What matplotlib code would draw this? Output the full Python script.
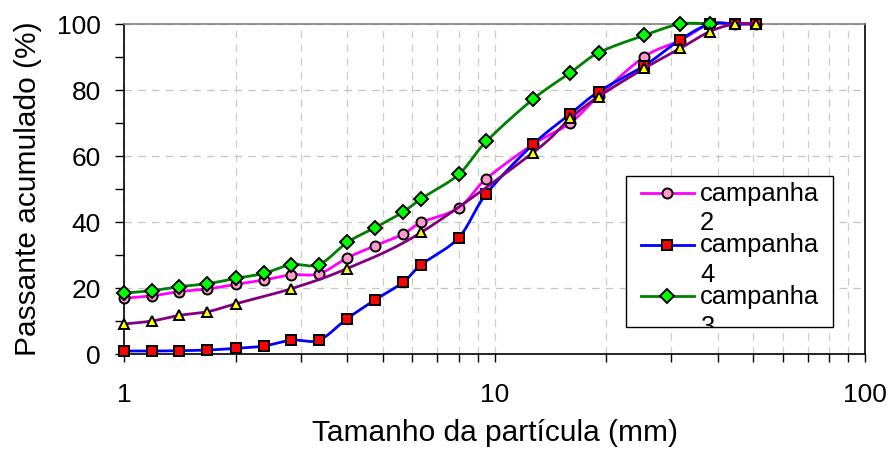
import numpy as np
import matplotlib
matplotlib.use("Agg")
import matplotlib.pyplot as plt
from matplotlib.ticker import FixedLocator, NullFormatter, MultipleLocator, LogLocator
from matplotlib.legend_handler import HandlerLine2D
from matplotlib.patches import Rectangle
from matplotlib.transforms import Bbox, TransformedBbox

plt.rcParams['font.family'] = ['Liberation Sans', 'DejaVu Sans']

# ---------------- data ----------------
sizes = [1, 1.19, 1.41, 1.68, 2, 2.38, 2.83, 3.36, 4, 4.76, 5.66, 6.35,
         8, 9.5, 12.7, 16, 19.1, 25.4, 31.7, 38.1, 44.5, 50.8]
campanha2 = [16.9, 17.6, 18.9, 19.7, 21.1, 22.4, 24.0, 24.3, 29.1, 32.8, 36.3, 39.9,
             44.2, 53.1, 63.5, 70.0, 78.2, 90.1, 95.0, 100, 100, 100]
campanha4 = [0.9, 0.9, 1.0, 1.2, 1.7, 2.4, 4.2, 4.2, 10.7, 16.4, 21.7, 27.1,
             35.2, 48.5, 63.5, 72.7, 79.5, 87.4, 95.2, 100, 100, 100]
sizes3 = [1, 1.19, 1.41, 1.68, 2, 2.38, 2.83, 3.36, 4, 4.76, 5.66, 6.35,
          8, 9.5, 12.7, 16, 19.1, 25.4, 31.7, 38.1]
campanha3 = [18.4, 19.2, 20.4, 21.3, 22.9, 24.4, 27.1, 27.1, 33.8, 38.3, 43.0, 47.1,
             54.4, 64.4, 77.2, 85.2, 91.3, 96.6, 100, 100]
sizes_x = [1, 1.19, 1.41, 1.68, 2, 2.83, 4, 6.35, 12.7, 16, 19.1, 25.4, 31.7, 38.1, 44.5, 50.8]
serie_x = [9.1, 10.0, 11.7, 12.8, 15.2, 19.8, 25.9, 36.9, 61.0, 71.4, 78.0, 86.6, 92.6, 97.7, 100, 100]

legend_labels = ["campanha\n2", "campanha\n4", "campanha\n3"]
x_ticks = [1, 10, 100]
x_ticklabels = ["1", "10", "100"]
y_ticks = [0, 20, 40, 60, 80, 100]


def smooth(x, y, n=24):
    """Excel-like smoothed line (Catmull-Rom Bezier) in log-x space."""
    P = np.column_stack([np.log10(np.asarray(x, float)), np.asarray(y, float)])
    ext = np.vstack([P[0], P, P[-1]])
    out = []
    t = np.linspace(0, 1, n)[:, None]
    for i in range(len(P) - 1):
        p0, p1, p2, p3 = ext[i], ext[i + 1], ext[i + 2], ext[i + 3]
        c1 = p1 + (p2 - p0) / 6.0
        c2 = p2 - (p3 - p1) / 6.0
        seg = (1 - t) ** 3 * p1 + 3 * (1 - t) ** 2 * t * c1 + 3 * (1 - t) * t ** 2 * c2 + t ** 3 * p2
        out.append(seg if i == 0 else seg[1:])
    pts = np.vstack(out)
    return 10 ** pts[:, 0], pts[:, 1]


class UpHandler(HandlerLine2D):
    def __init__(self, shift, **kw):
        super().__init__(**kw)
        self.shift = shift

    def create_artists(self, legend, orig_handle, xdescent, ydescent, width, height, fontsize, trans):
        arts = super().create_artists(legend, orig_handle, xdescent, ydescent, width, height, fontsize, trans)
        for a in arts:
            a.set_ydata(np.asarray(a.get_ydata(), float) + self.shift)
        return arts


fig = plt.figure(figsize=(8.92, 4.51), dpi=100)
ax = fig.add_axes([124 / 892, 1 - 354 / 451, (865 - 124) / 892, (354 - 24) / 451])

series = [
    (sizes, campanha2, '#FF00FF', 'o', '#FF99CC', 7.2),
    (sizes, campanha4, '#0000FF', 's', '#FF0000', 7.0),
    (sizes3, campanha3, '#008000', 'D', '#00FF00', 7.5),
    (sizes_x, serie_x, '#800080', '^', '#FFFF00', 7.2),
]
handles = []
for i, (xs, ys, lc, mk, mf, ms) in enumerate(series):
    sx, sy = smooth(xs, ys)
    ax.plot(sx, sy, color=lc, lw=2.0, zorder=3 + i * 0.1, clip_on=False, solid_capstyle='round')
    ax.plot(xs, ys, ls='none', marker=mk, ms=ms, mfc=mf, mec='black', mew=1.4,
            zorder=3.05 + i * 0.1, clip_on=False)
    h, = ax.plot([], [], color=lc, lw=2.0, marker=mk, ms=ms, mfc=mf, mec='black', mew=1.4)
    handles.append(h)

ax.set_xscale('log')
ax.set_xlim(1, 100)
ax.set_ylim(0, 100)
ax.xaxis.set_major_locator(FixedLocator(x_ticks))
ax.set_xticklabels(x_ticklabels)
ax.xaxis.set_minor_locator(LogLocator(base=10, subs=np.arange(2, 10)))
ax.xaxis.set_minor_formatter(NullFormatter())
ax.yaxis.set_major_locator(FixedLocator(y_ticks))
ax.yaxis.set_minor_locator(MultipleLocator(10))

ax.tick_params(axis='both', which='both', direction='out', color='black', width=1.0)
ax.tick_params(axis='x', which='both', length=6, pad=15, labelsize=19)
ax.tick_params(axis='y', which='both', length=6.5, pad=10, labelsize=19)

ax.grid(True, axis='x', which='both', color='#CCCCCC', ls=(0, (6, 5)), lw=0.9)
ax.grid(True, axis='y', which='major', color='#C4C4C4', ls=(0, (6, 5)), lw=0.9)
ax.set_axisbelow(True)

for s in ['left', 'bottom', 'right']:
    ax.spines[s].set_color('black')
    ax.spines[s].set_linewidth(1.2)
ax.spines['top'].set_color('#808080')
ax.spines['top'].set_linewidth(1.2)

ax.set_xlabel('Tamanho da partícula (mm)', fontsize=21.5, labelpad=8.5)
ax.set_ylabel('Passante acumulado (%)', fontsize=21.5, labelpad=11)

# legend frame (clips the last wrapped label like the original)
fx0, fx1 = (626 - 124) / 741, (833 - 124) / 741
fy0, fy1 = (354 - 327) / 330, (354 - 176) / 330
frame = Rectangle((fx0, fy0), fx1 - fx0, fy1 - fy0, transform=ax.transAxes,
                  facecolor='white', edgecolor='black', lw=1.0, zorder=4.5)
ax.add_patch(frame)

leg = ax.legend(handles, legend_labels, loc='upper left',
                bbox_to_anchor=(fx0 + 9 / 741, fy1), borderaxespad=0,
                frameon=False, fontsize=18.4, borderpad=0.22, labelspacing=-0.07,
                handlelength=2.08, handletextpad=0.25, numpoints=1,
                handler_map={h: UpHandler(shift=11.5) for h in handles})
leg.set_zorder(5)
clipbb = TransformedBbox(Bbox([[fx0, fy0], [fx1, fy1]]), ax.transAxes)
for t in leg.get_texts():
    t.set_linespacing(1.29)
    t.set_clip_box(clipbb)
    t.set_clip_on(True)

fig.savefig('out.png', dpi=100)
